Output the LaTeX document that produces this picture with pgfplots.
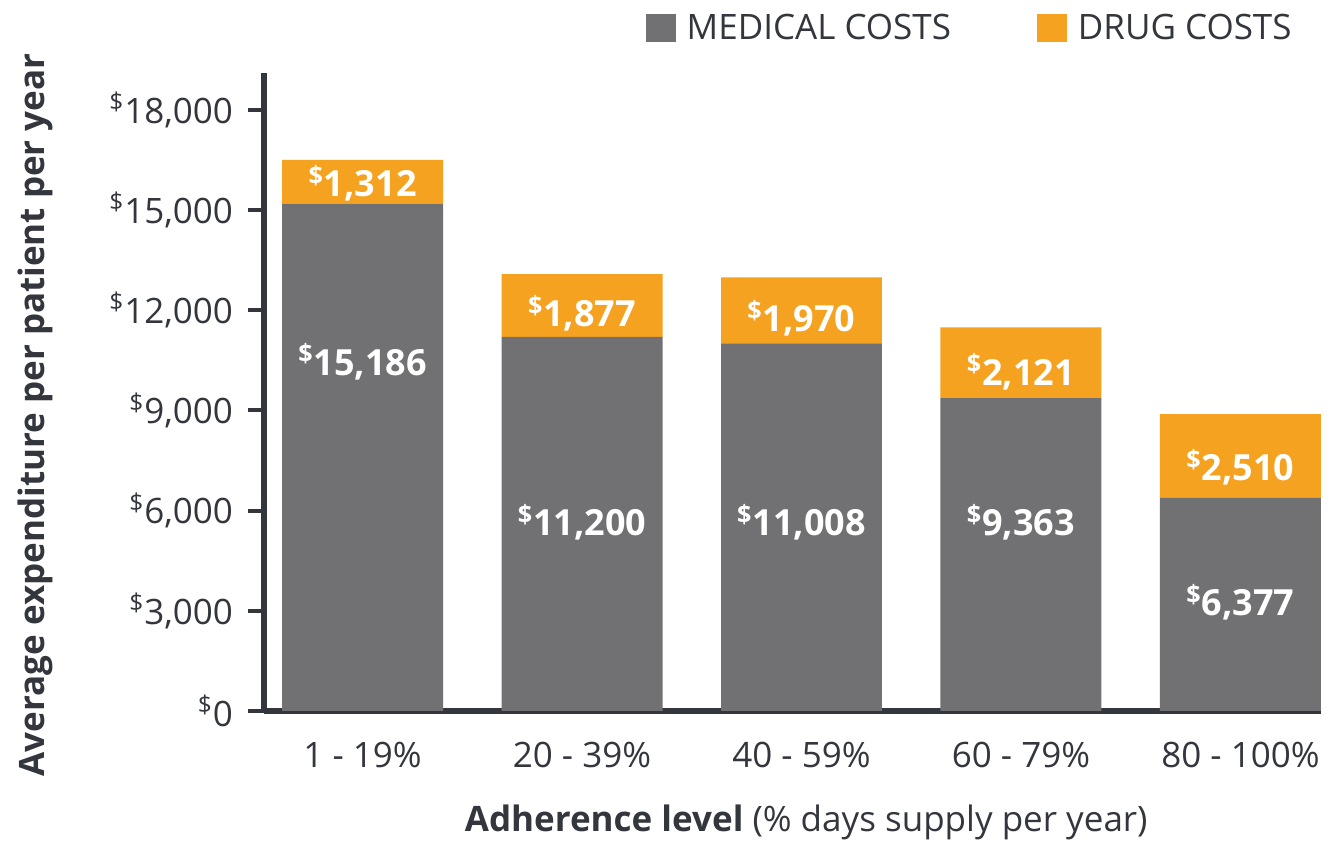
\documentclass[border=0pt]{standalone}
\usepackage{pgfplots}
\pgfplotsset{compat=1.18}
\usepackage{fontspec}
\setmainfont{Open Sans}
\definecolor{medgray}{HTML}{717073}
\definecolor{drugorange}{HTML}{F4A21F}
\definecolor{axisdark}{HTML}{34363E}
\definecolor{txt}{HTML}{34363E}
\newcommand{\dol}{\textsuperscript{\$}}
\newcommand{\fsz}{\fontsize{17.5}{21}\selectfont}
\newcommand{\bsz}{\fontsize{18}{22}\selectfont\bfseries}
\tikzset{barlab/.style={text=white, font=\bsz, anchor=center}}
\begin{document}
\begin{tikzpicture}
\begin{axis}[
  scale only axis, width=528.5pt, height=319pt,
  ybar stacked, bar width=80.5pt,
  xmin=-0.449, xmax=4.367, ymin=0, ymax=19100,
  axis lines*=left,
  axis line style={axisdark, line width=3pt},
  scaled y ticks=false,
  xtick={0,1,2,3,4},
  xticklabels={1 - 19\%, 20 - 39\%, 40 - 59\%, 60 - 79\%, 80 - 100\%},
  ytick={0,3000,6000,9000,12000,15000,18000},
  yticklabels={{\dol0},{\dol3,000},{\dol6,000},{\dol9,000},{\dol12,000},{\dol15,000},{\dol18,000}},
  x tick style={draw=none},
  y tick style={axisdark, line width=2pt},
  tick align=outside, major tick length=8pt,
  tick label style={font=\fsz, text=txt},
  yticklabel style={xshift=-4pt},
  xticklabel style={yshift=-4pt},
  ylabel={\bfseries Average expenditure per patient per year},
  ylabel style={font=\fsz, text=txt, at={(axis description cs:-0.2166,0.464)}, anchor=center},
  xlabel={\textbf{Adherence level} (\% days supply per year)},
  xlabel style={font=\fsz, text=txt, at={(axis description cs:0.513,-0.174)}, anchor=center},
  legend columns=2,
  legend style={draw=none, fill=none, font=\fsz, text=txt, at={(axis description cs:0.982,1.035)}, anchor=south east,
    /tikz/every odd column/.append style={column sep=3.5pt},
    /tikz/every even column/.append style={column sep=41pt}},
  legend image code/.code={\fill[#1] (0pt,-7pt) rectangle (15pt,7pt);},
  clip=false,
]
\addplot[fill=medgray, draw=none] coordinates {(0,15186) (1,11200) (2,11008) (3,9363) (4,6377)};
\addlegendentry{MEDICAL COSTS}
\addplot[fill=drugorange, draw=none] coordinates {(0,1312) (1,1877) (2,1970) (3,2121) (4,2510)};
\addlegendentry{DRUG COSTS}
\coordinate (m0) at (axis cs:0,10450);
\coordinate (m1) at (axis cs:1,5650);
\coordinate (m2) at (axis cs:2,5650);
\coordinate (m3) at (axis cs:3,5650);
\coordinate (m4) at (axis cs:4,3250);
\coordinate (d0) at (axis cs:0,15800);
\coordinate (d1) at (axis cs:1,11900);
\coordinate (d2) at (axis cs:2,11750);
\coordinate (d3) at (axis cs:3,10150);
\coordinate (d4) at (axis cs:4,7300);
\path (axis description cs:-0.2498,-0.2038) rectangle (axis description cs:1.018,1.1144);
\end{axis}
\node[barlab] at (m0) {\dol15,186};
\node[barlab] at (m1) {\dol11,200};
\node[barlab] at (m2) {\dol11,008};
\node[barlab] at (m3) {\dol9,363};
\node[barlab] at (m4) {\dol6,377};
\node[barlab] at (d0) {\dol1,312};
\node[barlab] at (d1) {\dol1,877};
\node[barlab] at (d2) {\dol1,970};
\node[barlab] at (d3) {\dol2,121};
\node[barlab] at (d4) {\dol2,510};
\end{tikzpicture}
\end{document}
